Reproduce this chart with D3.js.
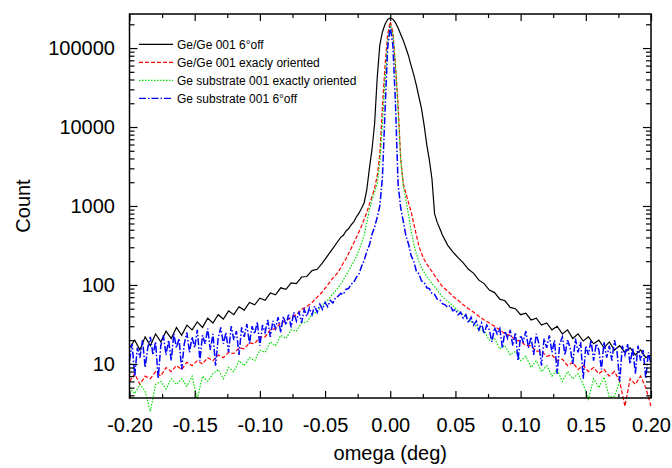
<!DOCTYPE html>
<html>
<head>
<meta charset="utf-8">
<title>omega scan</title>
<script src="https://d3js.org/d3.v7.min.js"></script>
<style>
body { margin: 0; background: #fff; }
svg text { font-family: "Liberation Sans", Arial, sans-serif; fill: #000; }
</style>
</head>
<body>
<svg id="chart" width="672" height="468"></svg>
<script>
// omega positions (deg) shared by the first three scans
const omega = [
  -0.200,-0.196,-0.192,-0.188,-0.184,-0.180,-0.176,-0.172,-0.168,-0.164,
  -0.160,-0.156,-0.152,-0.148,-0.144,-0.140,-0.136,-0.132,-0.128,-0.124,
  -0.120,-0.116,-0.112,-0.108,-0.104,-0.100,-0.096,-0.092,-0.088,-0.084,
  -0.080,-0.076,-0.072,-0.068,-0.064,-0.060,-0.056,-0.052,-0.048,-0.044,
  -0.040,-0.038,-0.036,-0.034,-0.032,-0.030,-0.028,-0.026,-0.024,-0.022,
  -0.020,-0.018,-0.016,-0.014,-0.012,-0.010,-0.008,-0.006,-0.004,-0.002,
  0.000,
  0.002,0.004,0.006,0.008,0.010,0.012,0.014,0.016,0.018,0.020,
  0.022,0.024,0.026,0.028,0.030,0.032,0.034,0.036,0.038,0.040,
  0.044,0.048,0.052,0.056,0.060,0.064,0.068,0.072,0.076,0.080,
  0.084,0.088,0.092,0.096,0.100,0.104,0.108,0.112,0.116,0.120,
  0.124,0.128,0.132,0.136,0.140,0.144,0.148,0.152,0.156,0.160,
  0.164,0.168,0.172,0.176,0.180,0.184,0.188,0.192,0.196,0.200
];

const geGe6off = [
  16,20,15,22,17,24,19,26,21,29,
  23,31,27,34,29,38,33,42,37,47,
  42,53,48,60,56,68,64,79,75,92,
  88,106,104,126,128,152,158,190,235,290,
  360,400,425,480,515,575,630,725,810,935,
  1100,1600,3000,5200,11000,42000,110000,160000,200000,230000,
  240000,
  232000,210000,180000,150000,125000,100000,80000,60000,46000,34000,
  24000,17000,10500,6000,3800,2200,800,620,520,430,
  320,262,222,190,158,140,115,104,86,80,
  66,63,52,50,42,44,36,38,31,33,
  27,30,24,27,21,24,19.5,22,18,20,
  16,19,15,17,14,16,13,15,12,13
];

const geGeExact = [
  6,7.5,5.5,7,6.5,8,7,9,8,9.5,
  8.5,10.5,9.5,11,10,12,11,13,12,14,
  13.5,16,15.5,18.5,18,22,22,27,28,33,
  35,39,42,49,53,60,70,82,100,122,
  145,165,190,215,250,290,340,400,470,560,
  680,830,1050,1300,1700,2400,4500,18000,60000,150000,
  215000,
  160000,60000,20000,4000,1900,1450,1100,850,600,430,
  310,250,210,185,165,148,132,118,106,95,
  84,72,64,56,50,45,40,36,33,30,
  27,24,23,20,19.5,17,17,14.5,14.5,12.5,
  13,11,11.5,9.5,10.5,8.5,9.5,8,9,7.5,
  8.5,7,8,6,2.9,6.5,5.5,7,5,2.9
];

const subExact = [
  5,4.2,5.5,4.5,2.5,5.5,6,4.8,6.5,5.5,
  6.5,5.2,7,3.6,7,6,7.5,8.5,6.5,9,
  8,11,9.5,12,11,15,14,19,17,23,
  21,27,26,33,34,42,46,56,64,77,
  92,102,116,132,150,172,198,230,275,340,
  430,620,900,1200,1500,1900,3500,11000,40000,120000,
  200000,
  150000,60000,16000,3800,1800,1200,780,480,330,250,
  200,165,145,128,115,104,95,86,78,71,
  62,55,47,42,36,33,27,26,20,21,
  15.5,17,13,14.5,11,12.5,9,11,8,9.5,
  7,8.5,6,8,6.5,7.5,5.5,3.6,6.5,5,
  6.8,3.8,3.9,6,null,null,null,null,null,null
];

// the 6deg-off substrate scan was taken with a finer step
const omegaFine = [
  -0.200,-0.198,-0.196,-0.194,-0.192,-0.190,-0.188,-0.186,-0.184,-0.182,
  -0.180,-0.178,-0.176,-0.174,-0.172,-0.170,-0.168,-0.166,-0.164,-0.162,
  -0.160,-0.158,-0.156,-0.154,-0.152,-0.150,-0.148,-0.146,-0.144,-0.142,
  -0.140,-0.138,-0.136,-0.134,-0.132,-0.130,-0.128,-0.126,-0.124,-0.122,
  -0.120,-0.118,-0.116,-0.114,-0.112,-0.110,-0.108,-0.106,-0.104,-0.102,
  -0.100,-0.098,-0.096,-0.094,-0.092,-0.090,-0.088,-0.086,-0.084,-0.082,
  -0.080,-0.078,-0.076,-0.074,-0.072,-0.070,-0.068,-0.066,-0.064,-0.062,
  -0.060,-0.058,-0.056,-0.054,-0.052,-0.050,-0.048,-0.046,-0.044,-0.042,
  -0.040,-0.038,-0.036,-0.034,-0.032,-0.030,-0.028,-0.026,-0.024,-0.022,
  -0.020,-0.018,-0.016,-0.014,-0.012,-0.010,-0.008,-0.006,-0.004,-0.002,
  0.000,
  0.002,0.004,0.006,0.008,0.010,0.012,0.014,0.016,0.018,0.020,
  0.022,0.024,0.026,0.028,0.030,0.032,0.034,0.036,0.038,0.040,
  0.042,0.044,0.046,0.048,0.050,0.052,0.054,0.056,0.058,0.060,
  0.062,0.064,0.066,0.068,0.070,0.072,0.074,0.076,0.078,0.080,
  0.082,0.084,0.086,0.088,0.090,0.092,0.094,0.096,0.098,0.100,
  0.102,0.104,0.106,0.108,0.110,0.112,0.114,0.116,0.118,0.120,
  0.122,0.124,0.126,0.128,0.130,0.132,0.134,0.136,0.138,0.140,
  0.142,0.144,0.146,0.148,0.150,0.152,0.154,0.156,0.158,0.160,
  0.162,0.164,0.166,0.168,0.170,0.172,0.174,0.176,0.178,0.180,
  0.182,0.184,0.186,0.188,0.190,0.192,0.194,0.196,0.198,0.200
];

const sub6off = [
  11,18,7,16,12,20,9,16,22,13,
  19,6.5,17,23,13,20,11,24,16,21,
  8.5,18,25,14,22,16,27,11,23,18,
  28,15,24,9.5,21,29,18,25,14,30,
  20,26,13,29,22,32,18,30,24,34,
  17,31,25,36,22,35,28,39,25,40,
  31,42,29,45,35,46,33,49,40,51,
  42,54,45,57,49,60,53,64,59,69,
  72,78,76,88,90,102,108,125,138,172,
  205,265,320,440,540,720,1000,2300,16000,100000,
  185000,
  110000,20000,1900,950,640,420,330,235,200,150,
  138,112,108,92,90,78,76,66,65,58,
  56,52,55,47,49,42,45,38,42,33,
  39,31,35,27,33,24,31,27,19,29,
  24,28,16,26,21,27,17,25,11,23,
  19,26,16,22,13,24,18,9.5,21,16,
  23,14,20,7.5,18,22,13,20,16,10,
  21,14,19,6.5,17,13,20,11,18,15,
  8.5,19,12,17,11,20,14,6,17,13,
  18,10,16,7.5,17,11,15,6.5,14,10
];

const xTicks = [-0.20, -0.15, -0.10, -0.05, 0, 0.05, 0.10, 0.15, 0.20];
const xTickLabels = ["-0.20", "-0.15", "-0.10", "-0.05", "0.00", "0.05", "0.10", "0.15", "0.20"];
const xMinorTicks = [-0.175, -0.125, -0.075, -0.025, 0.025, 0.075, 0.125, 0.175];
const yTicks = [10, 100, 1000, 10000, 100000];
const yTickLabels = ["10", "100", "1000", "10000", "100000"];

const width = 672, height = 468;
const margin = { top: 14, right: 21, bottom: 70, left: 129.5 };
const fontSize = 20;

const svg = d3.select("#chart");

const x = d3.scaleLinear()
    .domain([-0.2, 0.2])
    .range([margin.left, width - margin.right]);

const y = d3.scaleLog()
    .domain([3.7, 270000])
    .range([height - margin.bottom, margin.top]);

const series = [
    { name: "Ge/Ge 001 6°off", omega: omega, count: geGe6off, color: "#000000", dash: null, w: 1.2 },
    { name: "Ge/Ge 001 exacly oriented", omega: omega, count: geGeExact, color: "#ff0000", dash: "4,2", w: 1.2 },
    { name: "Ge substrate 001 exactly oriented", omega: omega, count: subExact, color: "#00e000", dash: "1.5,1.5", w: 1.2 },
    { name: "Ge substrate 001 6°off", omega: omegaFine, count: sub6off, color: "#0000ff", dash: "7,2,1.5,2", w: 1.5 }
];

const line = d3.line()
    .defined(d => d[1] != null)
    .x(d => x(d[0]))
    .y(d => y(d[1]));

series.forEach(s => {
    svg.append("path")
        .datum(d3.zip(s.omega, s.count))
        .attr("fill", "none")
        .attr("stroke", s.color)
        .attr("stroke-width", s.w)
        .attr("stroke-dasharray", s.dash)
        .attr("d", line);
});

const yMinor = y.ticks().filter(v => !yTicks.includes(v));
const x0 = x.range()[0], x1 = x.range()[1];
const yBottom = y.range()[0], yTop = y.range()[1];

function tidy(g) {
    g.select(".domain").remove();
    g.selectAll(".tick line").attr("stroke-width", 1.2);
    g.attr("font-size", fontSize);
}

// bottom axis with labels
svg.append("g")
    .attr("transform", `translate(0,${yBottom})`)
    .call(d3.axisBottom(x).tickValues(xTicks).tickFormat((d, i) => xTickLabels[i])
        .tickSizeInner(-7).tickSizeOuter(0).tickPadding(20))
    .call(tidy);
svg.append("g")
    .attr("transform", `translate(0,${yBottom})`)
    .call(d3.axisBottom(x).tickValues(xMinorTicks).tickFormat("").tickSizeInner(-4).tickSizeOuter(0))
    .call(tidy);

// top axis, ticks only
svg.append("g")
    .attr("transform", `translate(0,${yTop})`)
    .call(d3.axisTop(x).tickValues(xTicks).tickFormat("").tickSizeInner(-7).tickSizeOuter(0))
    .call(tidy);
svg.append("g")
    .attr("transform", `translate(0,${yTop})`)
    .call(d3.axisTop(x).tickValues(xMinorTicks).tickFormat("").tickSizeInner(-4).tickSizeOuter(0))
    .call(tidy);

// left axis with labels
svg.append("g")
    .attr("transform", `translate(${x0},0)`)
    .call(d3.axisLeft(y).tickValues(yTicks).tickFormat((d, i) => yTickLabels[i])
        .tickSizeInner(-8).tickSizeOuter(0).tickPadding(14.5))
    .call(tidy);
svg.append("g")
    .attr("transform", `translate(${x0},0)`)
    .call(d3.axisLeft(y).tickValues(yMinor).tickFormat("").tickSizeInner(-5).tickSizeOuter(0))
    .call(tidy);

// right axis, ticks only
svg.append("g")
    .attr("transform", `translate(${x1},0)`)
    .call(d3.axisRight(y).tickValues(yTicks).tickFormat("").tickSizeInner(-8).tickSizeOuter(0))
    .call(tidy);
svg.append("g")
    .attr("transform", `translate(${x1},0)`)
    .call(d3.axisRight(y).tickValues(yMinor).tickFormat("").tickSizeInner(-5).tickSizeOuter(0))
    .call(tidy);

svg.append("rect")
    .attr("x", x0)
    .attr("y", yTop)
    .attr("width", x1 - x0)
    .attr("height", yBottom - yTop)
    .attr("fill", "none")
    .attr("stroke", "#000")
    .attr("stroke-width", 1.5);

svg.append("text")
    .attr("x", (x0 + x1) / 2)
    .attr("y", 460)
    .attr("text-anchor", "middle")
    .attr("font-size", fontSize)
    .text("omega (deg)");

svg.append("text")
    .attr("transform", `translate(30,${(yTop + yBottom) / 2}) rotate(-90)`)
    .attr("text-anchor", "middle")
    .attr("font-size", fontSize)
    .text("Count");

// legend
const legend = svg.append("g");
series.forEach((s, i) => {
    const ly = 44.3 + i * 18;
    legend.append("line")
        .attr("x1", 139).attr("x2", 173)
        .attr("y1", ly).attr("y2", ly)
        .attr("stroke", s.color)
        .attr("stroke-width", 1.2)
        .attr("stroke-dasharray", s.dash);
    legend.append("text")
        .attr("x", 177)
        .attr("y", ly)
        .attr("dy", "0.35em")
        .attr("font-size", 12)
        .text(s.name);
});
</script>
</body>
</html>
